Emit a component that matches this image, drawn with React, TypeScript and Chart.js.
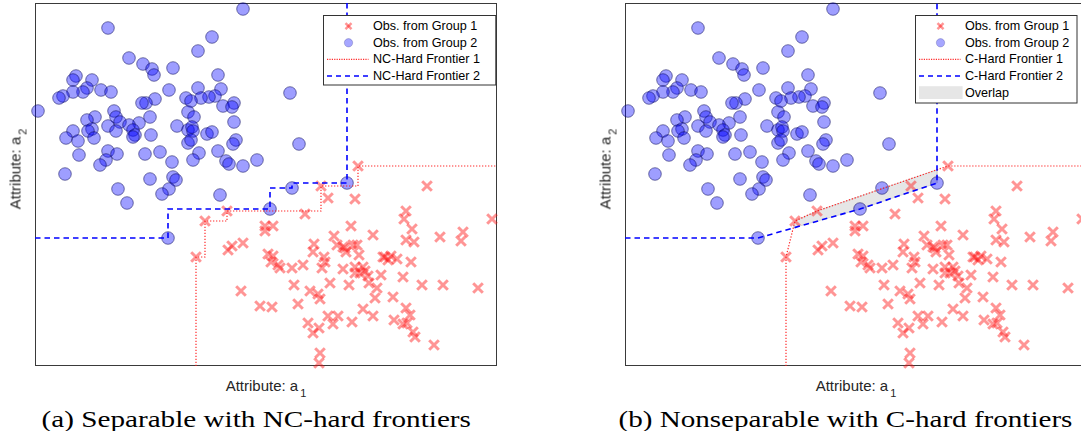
import React, { useEffect, useLayoutEffect, useRef } from 'react';
import { Chart, registerables } from 'chart.js';

Chart.register(...registerables);

// ---------- data (attribute space, unitless) ----------
const X_MAX = 462;
const Y_MAX = 363;

// Observations from Group 1 (red crosses): [a1, a2]
const group1: [number, number][] = [
  [323, 200], [392, 180], [286, 180], [293, 168], [320, 167], [192, 155], [270, 152], [170, 145], [161, 109], [371, 155],
  [369, 147], [377, 137], [457, 147], [230, 140], [238, 140], [230, 135], [316, 140], [338, 131], [299, 130], [279, 122],
  [371, 126], [379, 124], [405, 129], [428, 134], [426, 125], [208, 123], [197, 120], [193, 116], [233, 112], [238, 110],
  [236, 104], [243, 101], [245, 98], [257, 98], [268, 101], [278, 114], [289, 109], [290, 104], [287, 98], [308, 119],
  [302, 121], [311, 114], [318, 121], [322, 121], [324, 111], [320, 99], [328, 99], [325, 93], [333, 90], [308, 97],
  [348, 109], [356, 110], [353, 106], [362, 107], [376, 104], [346, 91], [368, 89], [334, 83], [342, 78], [314, 81],
  [295, 83], [259, 81], [206, 75], [275, 75], [283, 72], [285, 67], [263, 62], [340, 68], [358, 69], [387, 81],
  [408, 81], [443, 78], [225, 60], [237, 59], [328, 57], [338, 50], [293, 50], [303, 50], [298, 42], [317, 44],
  [273, 43], [284, 38], [278, 33], [359, 46], [371, 58], [375, 51], [372, 43], [368, 42], [378, 34], [380, 29],
  [399, 21], [285, 13], [284, 3], [320, 93], [330, 95], [310, 118], [350, 109],
];

// Observations from Group 2 (blue circles): [a1, a2]
const group2: [number, number][] = [
  [208, 357], [73, 338], [177, 329], [163, 315], [94, 308], [108, 302], [117, 297], [119, 291], [138, 298], [41, 290],
  [38, 286], [57, 286], [52, 278], [48, 274], [38, 274], [28, 270], [24, 268], [66, 276], [76, 274], [183, 291],
  [163, 278], [186, 277], [180, 270], [174, 269], [166, 268], [151, 268], [156, 265], [134, 276], [120, 267], [111, 263],
  [107, 263], [3, 255], [188, 260], [199, 263], [197, 259], [255, 273], [79, 255], [60, 249], [52, 246], [81, 249],
  [85, 244], [104, 243], [115, 249], [94, 241], [73, 240], [98, 236], [100, 231], [98, 229], [81, 235], [57, 237],
  [53, 235], [38, 235], [31, 228], [43, 225], [59, 228], [116, 231], [142, 240], [153, 254], [159, 249], [153, 236],
  [157, 239], [158, 235], [153, 223], [156, 226], [172, 232], [177, 234], [199, 244], [201, 226], [198, 222], [264, 222],
  [73, 215], [82, 212], [44, 211], [71, 206], [65, 201], [110, 212], [125, 214], [137, 204], [164, 213], [158, 206],
  [183, 215], [191, 205], [194, 202], [208, 200], [222, 206], [30, 192], [115, 187], [138, 189], [141, 186], [134, 177],
  [127, 172], [83, 177], [92, 163], [185, 171], [257, 178], [235, 157], [133, 128], [312, 183],
];

// NC-hard (staircase) frontiers
const ncFrontier1: [number, number][] = [
  [161, 0], [161, 109], [170, 109], [170, 145], [192, 145], [192, 155], [286, 155], [286, 180], [323, 180], [323, 200], [462, 200],
];
const ncFrontier2: [number, number][] = [
  [0, 128], [133, 128], [133, 157], [235, 157], [235, 178], [257, 178], [257, 183], [312, 183], [312, 363],
];

// C-hard (convex) frontiers
const cFrontier1: [number, number][] = [
  [161, 0], [161, 109], [170, 145], [192, 155], [323, 200], [462, 200],
];
const cFrontier2: [number, number][] = [
  [0, 128], [133, 128], [235, 157], [312, 183], [312, 363],
];

// Overlap region between the two C-hard frontiers
const overlapRegion: [number, number][] = [
  [168.3, 138.2], [170, 145], [192, 155], [312, 196.2], [312, 183], [235, 157], [168.3, 138.2],
];

const legendLabelsA = ['Obs. from Group 1', 'Obs. from Group 2', 'NC-Hard Frontier 1', 'NC-Hard Frontier 2'];
const legendLabelsB = ['Obs. from Group 1', 'Obs. from Group 2', 'C-Hard Frontier 1', 'C-Hard Frontier 2', 'Overlap'];
const captionA = '(a) Separable with NC-hard frontiers';
const captionB = '(b) Nonseparable with C-hard frontiers';
const axisTitleText = 'Attribute: a';

// ---------- layout ----------
const PLOT_W = 462;
const PLOT_H = 363;
const PLOT_TOP = 3;
const PAD = 10;
const SANS = '"Liberation Sans", Arial, Helvetica, sans-serif';

const RED_MARK = 'rgba(255,20,20,0.45)';
const BLUE_FILL = 'rgba(0,0,255,0.38)';
const BLUE_EDGE = 'rgba(0,0,80,0.5)';

const boxPlugin = {
  id: 'axesBox',
  beforeDatasetsDraw(chart: any) {
    const { ctx, chartArea: a } = chart;
    ctx.save();
    ctx.strokeStyle = '#3a3a3a';
    ctx.lineWidth = 1;
    ctx.strokeRect(Math.round(a.left) + 0.5, Math.round(a.top) + 0.5, Math.round(a.right - a.left) - 1, Math.round(a.bottom - a.top) - 1);
    ctx.restore();
  },
};

const toXY = (arr: [number, number][]) => arr.map(([x, y]) => ({ x, y }));

function ScatterPanel(props: {
  plotLeft: number;
  frontier1: [number, number][];
  frontier2: [number, number][];
  overlap?: [number, number][];
}) {
  const ref = useRef<HTMLCanvasElement>(null);
  const { plotLeft, frontier1, frontier2, overlap } = props;
  useEffect(() => {
    if (!ref.current) return;
    const datasets: any[] = [];
    if (overlap) {
      datasets.push({
        label: 'Overlap',
        data: toXY(overlap),
        showLine: true,
        fill: 'shape',
        backgroundColor: '#e6e6e6',
        borderColor: '#d2d2d2',
        borderWidth: 0.8,
        pointRadius: 0,
        tension: 0,
        order: 10,
      });
    }
    datasets.push({
      label: 'Obs. from Group 1',
      data: toXY(group1),
      pointStyle: 'crossRot',
      radius: 6.8,
      pointRadius: 6.8,
      borderWidth: 3,
      pointBorderWidth: 3,
      borderColor: RED_MARK,
      backgroundColor: RED_MARK,
      pointBorderColor: RED_MARK,
      pointBackgroundColor: RED_MARK,
      clip: false,
      order: 9,
    });
    datasets.push({
      label: 'Obs. from Group 2',
      data: toXY(group2),
      pointStyle: 'circle',
      pointRadius: 6.3,
      pointBorderWidth: 1,
      borderWidth: 1,
      backgroundColor: BLUE_FILL,
      borderColor: BLUE_EDGE,
      pointBackgroundColor: BLUE_FILL,
      pointBorderColor: BLUE_EDGE,
      clip: false,
      order: 8,
    });
    datasets.push({
      label: 'Frontier 1',
      data: toXY(frontier1),
      showLine: true,
      borderColor: 'rgba(255,20,20,0.9)',
      borderWidth: 1.2,
      borderDash: [1.3, 1.7],
      pointRadius: 0,
      fill: false,
      tension: 0,
      clip: false,
      order: 2,
    });
    datasets.push({
      label: 'Frontier 2',
      data: toXY(frontier2),
      showLine: true,
      borderColor: '#0000ff',
      borderWidth: 1.6,
      borderDash: [5.5, 4],
      pointRadius: 0,
      fill: false,
      tension: 0,
      clip: false,
      order: 1,
    });
    const chart = new Chart(ref.current, {
      type: 'scatter',
      data: { datasets },
      options: {
        animation: false,
        responsive: false,
        events: [],
        layout: { padding: PAD },
        scales: {
          x: { type: 'linear', min: 0, max: X_MAX, display: false },
          y: { type: 'linear', min: 0, max: Y_MAX, display: false },
        },
        plugins: { legend: { display: false }, tooltip: { enabled: false } },
      } as any,
      plugins: [boxPlugin],
    });
    return () => chart.destroy();
  }, []);
  return (
    <canvas
      ref={ref}
      width={PLOT_W + 2 * PAD}
      height={PLOT_H + 2 * PAD}
      style={{
        position: 'absolute',
        left: plotLeft - PAD,
        top: PLOT_TOP - PAD,
        width: PLOT_W + 2 * PAD,
        height: PLOT_H + 2 * PAD,
      }}
    />
  );
}

function AxisTitles({ plotLeft }: { plotLeft: number }) {
  const titleStyle: React.CSSProperties = {
    position: 'absolute',
    font: `15px ${SANS}`,
    lineHeight: '15px',
    color: '#262626',
    whiteSpace: 'nowrap',
  };
  const sub = (d: string) => (
    <span style={{ fontSize: 11, lineHeight: 0, position: 'relative', top: 6, marginLeft: 2 }}>{d}</span>
  );
  return (
    <>
      <div style={{ ...titleStyle, left: plotLeft + PLOT_W / 2, top: 377.8, transform: 'translateX(-50%)' }}>
        {axisTitleText}
        {sub('1')}
      </div>
      <div
        style={{
          ...titleStyle,
          left: plotLeft - 20.2,
          top: 168.5,
          transform: 'translate(-50%, -50%) rotate(-90deg)',
        }}
      >
        {axisTitleText}
        {sub('2')}
      </div>
    </>
  );
}

function Legend(props: { left: number; width: number; height: number; labels: string[] }) {
  const { left, width, height, labels } = props;
  const first = 11.2;
  const step = 16.6;
  const symX = 25.5;
  return (
    <svg
      width={width}
      height={height}
      style={{ position: 'absolute', left, top: 14.7, overflow: 'visible' }}
    >
      <rect x={0.5} y={0.5} width={width - 1} height={height - 1} fill="#fff" stroke="#333" strokeWidth={1} />
      {labels.map((label, i) => {
        const y = first + i * step;
        let sym: React.ReactNode = null;
        if (i === 0) {
          sym = (
            <g stroke="rgba(255,20,20,0.45)" strokeWidth={2.4}>
              <line x1={symX - 3} y1={y - 3} x2={symX + 3} y2={y + 3} />
              <line x1={symX - 3} y1={y + 3} x2={symX + 3} y2={y - 3} />
            </g>
          );
        } else if (i === 1) {
          sym = <circle cx={symX} cy={y} r={4.2} fill="rgba(0,0,255,0.35)" stroke="rgba(0,0,90,0.25)" strokeWidth={0.8} />;
        } else if (i === 2) {
          sym = <line x1={4} y1={y} x2={45.5} y2={y} stroke="rgba(255,20,20,0.9)" strokeWidth={1.1} strokeDasharray="1.2 1.2" />;
        } else if (i === 3) {
          sym = <line x1={4} y1={y} x2={45.5} y2={y} stroke="#0000ff" strokeWidth={1.5} strokeDasharray="5 4" />;
        } else {
          sym = <rect x={4} y={y - 6.4} width={43.6} height={12.8} fill="#e6e6e6" />;
        }
        return (
          <g key={label}>
            {sym}
            <text
              x={50}
              y={y}
              dominantBaseline="central"
              fontFamily={SANS}
              fontSize={12.6}
              fill="#000"
            >
              {label}
            </text>
          </g>
        );
      })}
    </svg>
  );
}

function Caption({ text, centerX, targetWidth }: { text: string; centerX: number; targetWidth: number }) {
  const ref = useRef<HTMLSpanElement>(null);
  useLayoutEffect(() => {
    const fit = () => {
      const el = ref.current;
      if (!el) return;
      const w = el.offsetWidth;
      if (w > 0) el.style.transform = `scaleX(${targetWidth / w})`;
    };
    fit();
    if ((document as any).fonts && (document as any).fonts.ready) {
      (document as any).fonts.ready.then(fit);
    }
  }, []);
  return (
    <div
      style={{
        position: 'absolute',
        left: centerX - 350,
        width: 700,
        top: 407.7,
        textAlign: 'center',
        whiteSpace: 'nowrap',
        font: '23px "Liberation Serif", "Times New Roman", serif',
        lineHeight: '23px',
        color: '#000',
      }}
    >
      <span ref={ref} style={{ display: 'inline-block', transformOrigin: '50% 50%' }}>
        {text}
      </span>
    </div>
  );
}

export default function App() {
  return (
    <div
      style={{
        position: 'absolute',
        left: 0,
        top: 0,
        width: 1081,
        height: 431,
        overflow: 'hidden',
        background: '#fff',
      }}
    >
      <ScatterPanel plotLeft={35} frontier1={ncFrontier1} frontier2={ncFrontier2} />
      <ScatterPanel plotLeft={625} frontier1={cFrontier1} frontier2={cFrontier2} overlap={overlapRegion} />
      <AxisTitles plotLeft={35} />
      <AxisTitles plotLeft={625} />
      <Legend left={322.7} width={173.3} height={70.5} labels={legendLabelsA} />
      <Legend left={915} width={162.5} height={88.5} labels={legendLabelsB} />
      <Caption text={captionA} centerX={256.5} targetWidth={430} />
      <Caption text={captionB} centerX={845.7} targetWidth={454} />
    </div>
  );
}
